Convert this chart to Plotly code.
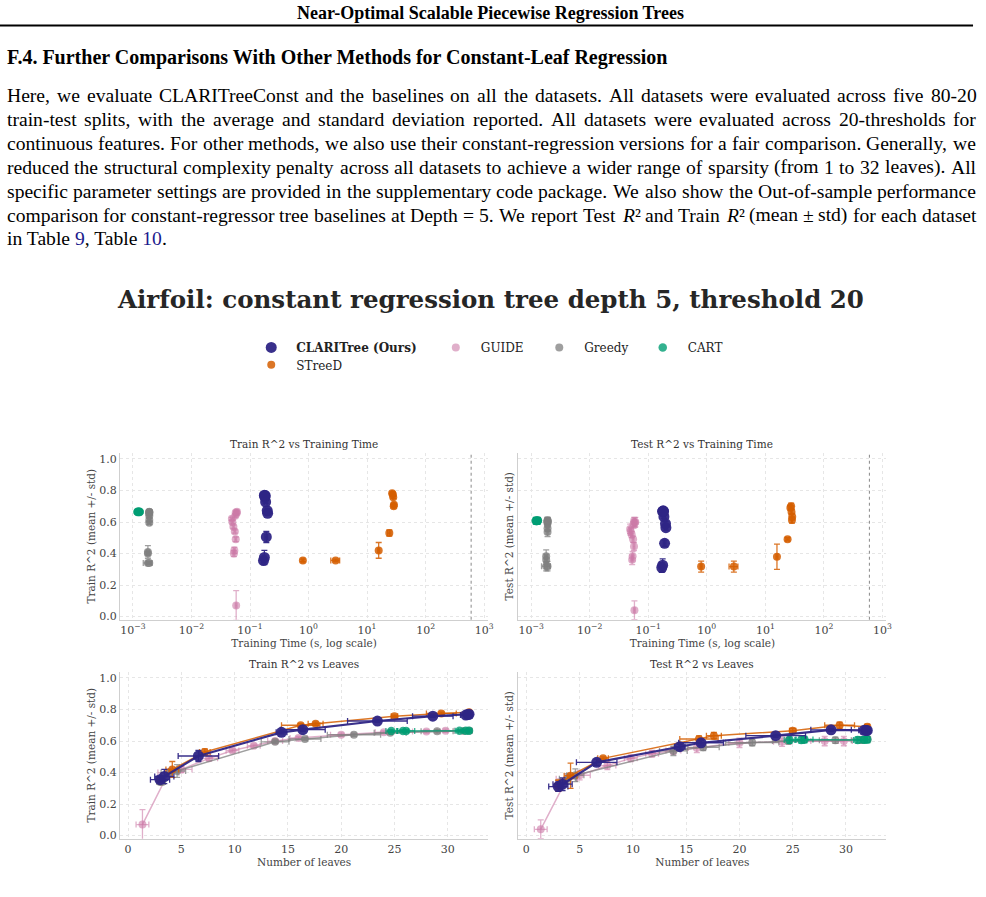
import re
import plotly.graph_objects as go

W, H = 986, 897

# ---------------- data ----------------
clari_leaves = [3.0, 3.4, 6.6, 14.4, 16.4, 23.4, 28.6, 31.7, 31.9, 32.0]
clari_leaves_err = [0.9, 0.9, 1.9, 0.5, 2.1, 2.8, 1.9, 0.5, 0.3, 0.0]
clari_train = [0.355, 0.375, 0.505, 0.655, 0.672, 0.727, 0.758, 0.765, 0.768, 0.770]
clari_train_err = [0.015, 0.045, 0.035, 0.01, 0.01, 0.008, 0.008, 0.008, 0.008, 0.008]
clari_test = [0.311, 0.326, 0.465, 0.564, 0.589, 0.634, 0.671, 0.668, 0.667, 0.667]
clari_test_err = [0.03, 0.04, 0.02, 0.015, 0.015, 0.01, 0.01, 0.01, 0.01, 0.01]
clari_time = [0.17, 0.176, 0.19, 0.2, 0.197, 0.185, 0.18, 0.178, 0.182, 0.176]
clari_time_err = [0.01, 0.01, 0.01, 0.01, 0.01, 0.01, 0.01, 0.01, 0.01, 0.01]

streed_leaves = [3.0, 3.0, 4.15, 7.2, 16.2, 17.6, 25.0, 29.4, 32.0]
streed_leaves_err = [0.0, 0.0, 0.6, 0.5, 1.8, 0.7, 0.3, 1.4, 0.2]
streed_train = [0.356, 0.356, 0.42, 0.53, 0.70, 0.71, 0.757, 0.775, 0.782]
streed_train_err = [0.008, 0.008, 0.05, 0.02, 0.01, 0.01, 0.008, 0.008, 0.008]
streed_test = [0.317, 0.317, 0.38, 0.49, 0.613, 0.634, 0.665, 0.70, 0.69]
streed_test_err = [0.035, 0.035, 0.08, 0.01, 0.02, 0.02, 0.015, 0.02, 0.015]
streed_time = [0.8, 2.9, 15.8, 24.0, 28.5, 28.8, 28.0, 27.6, 26.8]
streed_time_err = [0.03, 0.5, 0.6, 1.5, 0.6, 0.6, 0.6, 0.6, 0.6]

guide_leaves = [1.35, 3.8, 5.0, 7.6, 9.8, 11.8, 13.8, 16.0, 20.0, 24.0, 28.0, 29.8]
guide_leaves_err = [0.6, 1.0, 1.0, 0.8, 0.6, 0.6, 0.7, 0.8, 1.0, 0.8, 1.3, 0.8]
guide_train = [0.07, 0.40, 0.42, 0.49, 0.54, 0.57, 0.60, 0.62, 0.64, 0.655, 0.66, 0.665]
guide_train_err = [0.095, 0.02, 0.02, 0.015, 0.01, 0.01, 0.01, 0.01, 0.01, 0.01, 0.01, 0.01]
guide_test = [0.04, 0.36, 0.383, 0.444, 0.49, 0.52, 0.54, 0.556, 0.589, 0.596, 0.60, 0.60]
guide_test_err = [0.06, 0.03, 0.03, 0.025, 0.02, 0.02, 0.025, 0.03, 0.03, 0.03, 0.03, 0.03]
guide_time = [0.058, 0.053, 0.054, 0.057, 0.055, 0.052, 0.05, 0.049, 0.056, 0.059, 0.057, 0.06]
guide_time_err = [0.002] * 12

greedy_leaves = [3.0, 3.2, 3.9, 4.6, 13.8, 16.6, 21.2, 24.6, 29.0, 31.5, 32.0]
greedy_leaves_err = [0.3, 0.3, 0.8, 0.8, 1.3, 1.5, 2.5, 1.5, 1.5, 0.5, 0.3]
greedy_train = [0.34, 0.34, 0.40, 0.41, 0.595, 0.613, 0.64, 0.652, 0.662, 0.664, 0.665]
greedy_train_err = [0.008, 0.008, 0.01, 0.04, 0.01, 0.01, 0.01, 0.01, 0.01, 0.01, 0.01]
greedy_test = [0.32, 0.32, 0.361, 0.383, 0.537, 0.56, 0.59, 0.60, 0.605, 0.607, 0.611]
greedy_test_err = [0.03, 0.03, 0.03, 0.04, 0.03, 0.02, 0.02, 0.02, 0.02, 0.02, 0.02]
greedy_time = [0.0018, 0.0019, 0.0018, 0.0018, 0.0019, 0.0019, 0.0019, 0.0019, 0.0019, 0.0019, 0.0019]
greedy_time_err = [0.0003, 0.0002, 0.0001, 0.0001, 0.0001, 0.0001, 0.0001, 0.0001, 0.0001, 0.0001, 0.0001]

cart_leaves = [24.7, 25.8, 26.1, 31.1, 31.7, 32.0]
cart_leaves_err = [0.5, 0.5, 0.8, 0.4, 0.3, 0.2]
cart_train = [0.663, 0.664, 0.664, 0.665, 0.665, 0.665]
cart_train_err = [0.008] * 6
cart_test = [0.606, 0.607, 0.609, 0.607, 0.608, 0.609]
cart_test_err = [0.02] * 6
cart_time = [0.0012, 0.00125, 0.0013, 0.00125, 0.0013, 0.0012]
cart_time_err = [0.0001] * 6

time_limit = 600
log_tick_vals = [0.001, 0.01, 0.1, 1, 10, 100, 1000]
log_tick_text = ["10<sup>−3</sup>", "10<sup>−2</sup>", "10<sup>−1</sup>", "10<sup>0</sup>",
                 "10<sup>1</sup>", "10<sup>2</sup>", "10<sup>3</sup>"]
leaf_ticks = [0, 5, 10, 15, 20, 25, 30]
r2_ticks = [0, 0.2, 0.4, 0.6, 0.8, 1.0]
r2_tick_text = ["0.0", "0.2", "0.4", "0.6", "0.8", "1.0"]

page_header = "Near-Optimal Scalable Piecewise Regression Trees"
section_title = "F.4. Further Comparisons With Other Methods for Constant-Leaf Regression"
paragraph_lines = [
    "Here, we evaluate CLARITreeConst and the baselines on all the datasets. All datasets were evaluated across five 80-20",
    "train-test splits, with the average and standard deviation reported. All datasets were evaluated across 20-thresholds for",
    "continuous features. For other methods, we also use their constant-regression versions for a fair comparison. Generally, we",
    "reduced the structural complexity penalty across all datasets to achieve a wider range of sparsity (from 1 to 32 leaves). All",
    "specific parameter settings are provided in the supplementary code package. We also show the Out-of-sample performance",
    "comparison for constant-regressor tree baselines at Depth = 5. We report Test <i>R</i>² and Train <i>R</i>² (mean ± std) for each dataset",
]
last_line = "in Table <span style='color:#1a1a8c'>9</span>, Table <span style='color:#1a1a8c'>10</span>."
chart_title = "Airfoil: constant regression tree depth 5, threshold 20"
subplot_titles = ["Train R^2 vs Training Time", "Test R^2 vs Training Time",
                  "Train R^2 vs Leaves", "Test R^2 vs Leaves"]

# ---------------- styles ----------------
series = [
    ("GUIDE", "#CC79A7", 0.6, 8, 1.5, guide_leaves, guide_leaves_err, guide_train, guide_train_err,
     guide_test, guide_test_err, guide_time, guide_time_err, "legend2"),
    ("Greedy", "#7f7f7f", 0.75, 8, 1.5, greedy_leaves, greedy_leaves_err, greedy_train, greedy_train_err,
     greedy_test, greedy_test_err, greedy_time, greedy_time_err, "legend3"),
    ("CART", "#009E73", 0.8, 8.5, 1.5, cart_leaves, cart_leaves_err, cart_train, cart_train_err,
     cart_test, cart_test_err, cart_time, cart_time_err, "legend4"),
    ("STreeD", "#D55E00", 0.85, 8, 1.5, streed_leaves, streed_leaves_err, streed_train, streed_train_err,
     streed_test, streed_test_err, streed_time, streed_time_err, "legend5"),
    ("CLARITree (Ours)", "#2E2585", 0.95, 11, 2.2, clari_leaves, clari_leaves_err, clari_train, clari_train_err,
     clari_test, clari_test_err, clari_time, clari_time_err, "legend"),
]


def rgba(hexc, a):
    h = hexc.lstrip("#")
    r, g, b = int(h[0:2], 16), int(h[2:4], 16), int(h[4:6], 16)
    return f"rgba({r},{g},{b},{a})"


fig = go.Figure()

for (name, col, op, ms, lw, lv, lve, tr, tre, te, tee, tm, tme, leg) in series:
    ecol = rgba(col, op)
    for (yv, ye, xa, ya, show) in [(tr, tre, "x", "y", True), (te, tee, "x2", "y2", False)]:
        fig.add_trace(go.Scatter(
            x=tm, y=yv, mode="markers", name=("<b>%s</b>" % name) if name.startswith("CLARI") else name,
            legend=leg, showlegend=show,
            marker=dict(color=ecol, size=ms, line=dict(width=0)),
            error_y=dict(type="data", array=ye, color=ecol, thickness=1.3, width=3),
            error_x=dict(type="data", array=tme, color=ecol, thickness=1.3, width=3),
            xaxis=xa, yaxis=ya))
    order = sorted(range(len(lv)), key=lambda i: lv[i])
    for (yv, ye, xa, ya) in [(tr, tre, "x3", "y3"), (te, tee, "x4", "y4")]:
        fig.add_trace(go.Scatter(
            x=[lv[i] for i in order], y=[yv[i] for i in order], mode="lines+markers",
            showlegend=False,
            line=dict(color=ecol, width=lw),
            marker=dict(color=ecol, size=ms, line=dict(width=0)),
            error_y=dict(type="data", array=[ye[i] for i in order], color=ecol, thickness=1.3, width=3),
            error_x=dict(type="data", array=[lve[i] for i in order], color=ecol, thickness=1.3, width=3),
            xaxis=xa, yaxis=ya))


def px_x(p):
    return p / W


def px_y(p):
    return 1 - p / H


dom_x_left = [px_x(120.7), px_x(490.7)]
dom_x_right = [px_x(521), px_x(891)]
dom_y_top = [px_y(622.5), px_y(454.7)]
dom_y_bot = [px_y(842.5), px_y(674.7)]

font_family = "DejaVu Serif"
tick_font = dict(family=font_family, size=11, color="#444444")
title_font = dict(family=font_family, size=10.5, color="#444444")
grid = dict(showgrid=True, gridcolor="#e6e6e6", griddash="dot", gridwidth=1,
            showline=True, linecolor="#cfcfcf", linewidth=1.2, zeroline=False, ticks="",
            tickfont=tick_font)
yr = [-0.02, 1.04]
xr_log = [-3.22, 3.07]
xr_lin = [-0.75, 33.8]

fig.update_layout(
    xaxis=dict(domain=dom_x_left, anchor="y", type="log", range=xr_log, tickvals=log_tick_vals,
               ticktext=log_tick_text,
               title=dict(text="Training Time (s, log scale)", font=title_font, standoff=0), **grid),
    yaxis=dict(domain=dom_y_top, anchor="x", range=yr, tickvals=r2_ticks, ticktext=r2_tick_text,
               title=dict(text="Train R^2 (mean +/- std)", font=title_font, standoff=1), **grid),
    xaxis2=dict(domain=dom_x_right, anchor="y2", type="log", range=xr_log, tickvals=log_tick_vals,
                ticktext=log_tick_text,
                title=dict(text="Training Time (s, log scale)", font=title_font, standoff=0), **grid),
    yaxis2=dict(domain=dom_y_top, anchor="x2", range=yr, tickvals=r2_ticks, showticklabels=False,
                title=dict(text="Test R^2 (mean +/- std)", font=title_font, standoff=1), **grid),
    xaxis3=dict(domain=dom_x_left, anchor="y3", range=xr_lin, tickvals=leaf_ticks,
                title=dict(text="Number of leaves", font=title_font, standoff=1), **grid),
    yaxis3=dict(domain=dom_y_bot, anchor="x3", range=yr, tickvals=r2_ticks, ticktext=r2_tick_text,
                title=dict(text="Train R^2 (mean +/- std)", font=title_font, standoff=1), **grid),
    xaxis4=dict(domain=dom_x_right, anchor="y4", range=xr_lin, tickvals=leaf_ticks,
                title=dict(text="Number of leaves", font=title_font, standoff=1), **grid),
    yaxis4=dict(domain=dom_y_bot, anchor="x4", range=yr, tickvals=r2_ticks, showticklabels=False,
                title=dict(text="Test R^2 (mean +/- std)", font=title_font, standoff=1), **grid),
)

for xa, ya in [("x", "y"), ("x2", "y2")]:
    fig.add_shape(type="line", xref=xa, yref=ya + " domain", x0=time_limit, x1=time_limit, y0=0, y1=1,
                  line=dict(color="#888888", width=1, dash="dot"))

# ---------------- legends ----------------
leg_common = dict(orientation="h", bgcolor="rgba(0,0,0,0)", borderwidth=0, itemwidth=40,
                  font=dict(family=font_family, size=12, color="#222222"),
                  xanchor="left", yanchor="middle", itemclick=False, itemdoubleclick=False)
legend_pos = {"legend": (272.5, 349), "legend2": (458, 349), "legend3": (562, 349),
              "legend4": (666, 349), "legend5": (272.5, 366.5)}
for lid, (cx, cy) in legend_pos.items():
    fig.update_layout(**{lid: dict(x=px_x(cx - 25), y=px_y(cy), **leg_common)})

# ---------------- page text ----------------
# Times / Liberation Serif advance widths (1/1000 em) used to justify the paragraph
TW = {' ': 250, 'a': 444, 'b': 500, 'c': 444, 'd': 500, 'e': 444, 'f': 333, 'g': 500, 'h': 500, 'i': 278,
      'j': 278, 'k': 500, 'l': 278, 'm': 778, 'n': 500, 'o': 500, 'p': 500, 'q': 500, 'r': 333, 's': 389,
      't': 278, 'u': 500, 'v': 500, 'w': 722, 'x': 500, 'y': 500, 'z': 444,
      'A': 722, 'B': 667, 'C': 667, 'D': 722, 'E': 611, 'F': 556, 'G': 722, 'H': 722, 'I': 333, 'J': 389,
      'K': 722, 'L': 611, 'M': 889, 'N': 722, 'O': 722, 'P': 556, 'Q': 722, 'R': 611, 'S': 556, 'T': 611,
      'U': 722, 'V': 722, 'W': 944, 'X': 722, 'Y': 722, 'Z': 611,
      '0': 500, '1': 500, '2': 500, '3': 500, '4': 500, '5': 500, '6': 500, '7': 500, '8': 500, '9': 500,
      ',': 250, '.': 250, '-': 333, '(': 333, ')': 333, '=': 564, '±': 549, ':': 278, '²': 300}


def measure(html, size):
    total = 0.0
    for tok in re.split(r"(<[^>]+>)", html):
        if tok.startswith("<"):
            continue
        for ch in tok:
            total += TW.get(ch, 500)
    return total * size / 1000.0


ann = []
serif_page = "Liberation Serif"
para_size = 19.6
left, right = 6.0, 980.0
for i, line in enumerate(paragraph_lines):
    words = line.split(" ")
    widths = [measure(w, para_size) for w in words]
    gap = (right - left - sum(widths)) / (len(words) - 1)
    xpos = left
    for w, wd in zip(words, widths):
        ann.append(dict(text=w, x=px_x(xpos), y=px_y(96 + 24 * i), xanchor="left", yanchor="middle",
                        borderpad=0, font=dict(family=serif_page, size=para_size, color="#000000")))
        xpos += wd + gap
ann.append(dict(text=last_line, x=px_x(left), y=px_y(96 + 24 * 6), xanchor="left", yanchor="middle",
                borderpad=0, font=dict(family=serif_page, size=para_size, color="#000000")))
ann.append(dict(text="<b>%s</b>" % page_header, x=px_x(493), y=px_y(13), xanchor="center", yanchor="middle",
                font=dict(family=serif_page, size=18, color="#000000")))
ann.append(dict(text="<b>%s</b>" % section_title, x=px_x(left), y=px_y(58), xanchor="left", yanchor="middle",
                borderpad=0, font=dict(family=serif_page, size=20, color="#000000")))
ann.append(dict(text="<b>%s</b>" % chart_title, x=px_x(493), y=px_y(301), xanchor="center", yanchor="middle",
                font=dict(family=font_family, size=24.5, color="#262626")))
for t, cx, cy in zip(subplot_titles, [306, 706, 306, 706], [446, 446, 666.5, 666.5]):
    ann.append(dict(text=t, x=px_x(cx), y=px_y(cy), xanchor="center", yanchor="middle",
                    font=dict(family=font_family, size=10.5, color="#333333")))
for a in ann:
    a.update(xref="paper", yref="paper", showarrow=False)
fig.update_layout(annotations=ann)

fig.add_shape(type="line", xref="paper", yref="paper", x0=0, x1=px_x(978), y0=px_y(25.5), y1=px_y(25.5),
              line=dict(color="#000000", width=2))

fig.update_layout(width=W, height=H, margin=dict(l=0, r=0, t=0, b=0),
                  paper_bgcolor="white", plot_bgcolor="white")

fig.write_html("out.html")
